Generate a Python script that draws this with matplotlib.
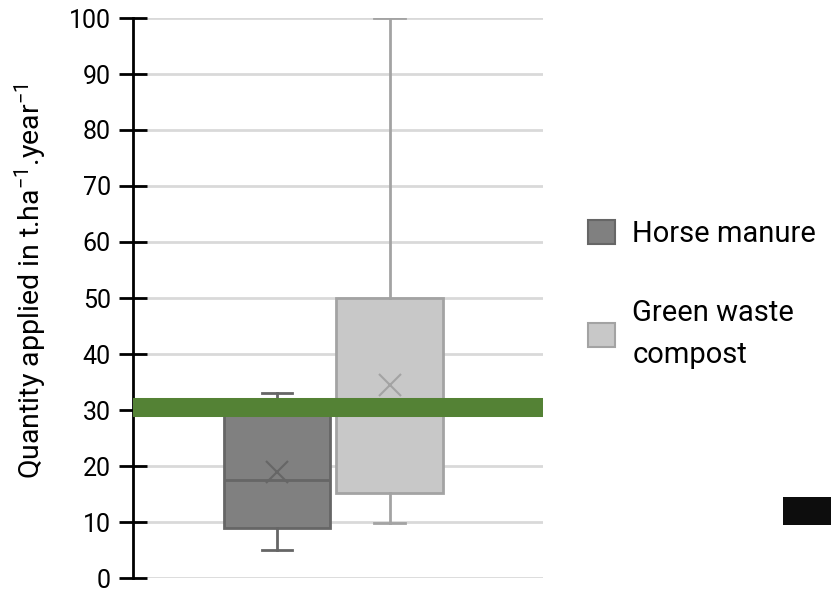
import matplotlib.pyplot as plt
from matplotlib.patches import Patch, Rectangle

plt.rcParams['font.family'] = ['Roboto', 'DejaVu Sans']
plt.rcParams['mathtext.fontset'] = 'custom'
plt.rcParams['mathtext.rm'] = 'Roboto'
plt.rcParams['mathtext.it'] = 'Roboto'

labels = ['Horse manure', 'Green waste\ncompost']
whislo = [5.0, 9.8]
q1 = [8.9, 15.2]
med = [17.5, 30.0]
q3 = [31.0, 50.0]
whishi = [33.0, 100.0]
means = [19.0, 34.5]
reference = 30.6

faces = ['#808080', '#c8c8c8']
edges = ['#666666', '#a3a3a3']

fig = plt.figure(figsize=(8.31, 5.89), dpi=100)
ax = fig.add_axes([133 / 831, 1 - 578 / 589, 410 / 831, 560 / 589])

for i in range(2):
    st = [dict(whislo=whislo[i], q1=q1[i], med=med[i], q3=q3[i], whishi=whishi[i],
               mean=means[i], fliers=[], label=labels[i])]
    ax.bxp(st, positions=[i + 1], widths=0.95, patch_artist=True, showmeans=True,
           boxprops=dict(facecolor=faces[i], edgecolor=edges[i], linewidth=2),
           medianprops=dict(color=edges[i], linewidth=2),
           whiskerprops=dict(color=edges[i], linewidth=2),
           capprops=dict(color=edges[i], linewidth=2), capwidths=0.27,
           meanprops=dict(marker='x', markersize=16, markeredgecolor=edges[i],
                          markeredgewidth=1.5), zorder=3)

ax.axhline(reference, xmin=0, xmax=0.995, color='#548235', linewidth=13.7, zorder=5)

ax.set_xlim(-0.28, 3.364)
ax.set_ylim(0, 100)
ax.set_yticks(range(0, 101, 10))
ax.set_xticks([])
ax.grid(axis='y', color='#d9d9d9', linewidth=2, zorder=0)
ax.set_axisbelow(True)
for s in ['top', 'right', 'bottom']:
    ax.spines[s].set_visible(False)
ax.spines['left'].set_linewidth(2)
ax.tick_params(axis='y', direction='inout', length=20, width=2, labelsize=18, pad=6)
ax.set_ylabel('Quantity applied in t.ha$^{-1}$.year$^{-1}$', fontsize=20.5)
ax.yaxis.set_label_coords(-0.205, 0.53)

handles = [Patch(facecolor=faces[i], edgecolor=edges[i], linewidth=1.5) for i in range(2)]
leg = fig.legend(handles, labels, loc='upper left', bbox_to_anchor=(0.6905, 0.652),
                 frameon=False, fontsize=21, handlelength=0.9, handleheight=0.9,
                 labelspacing=1.75, handletextpad=0.6, borderpad=0)
leg.get_texts()[1].set_linespacing(1.65)

fig.patches.append(Rectangle((783 / 831, 1 - 525 / 589), 48 / 831, 28 / 589,
                             transform=fig.transFigure, facecolor='#0d0d0d',
                             edgecolor='none'))

fig.savefig('out.png', dpi=100)
